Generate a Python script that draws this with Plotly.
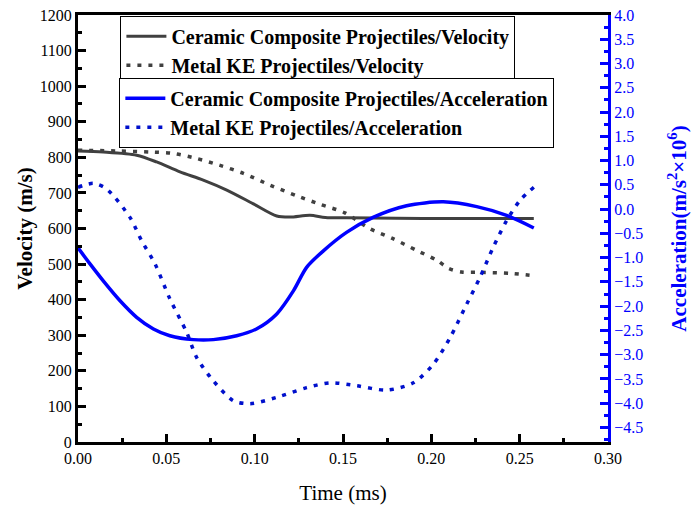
import plotly.graph_objects as go

# ---- data ----
t_cer_vel = [0.0, 0.0143, 0.0332, 0.0445, 0.0577, 0.0709, 0.0842, 0.099, 0.1125, 0.120, 0.1313, 0.140, 0.152, 0.180, 0.210, 0.240, 0.258]
v_cer = [818, 815, 806, 787, 759, 736, 708, 670, 635, 632, 637, 631, 630, 629, 628, 628, 628]

t_met_vel = [0.0, 0.0217, 0.041, 0.054, 0.067, 0.080, 0.0936, 0.1087, 0.1238, 0.137, 0.151, 0.165, 0.178, 0.1915, 0.203, 0.2097, 0.217, 0.2266, 0.2445, 0.257]
v_met = [820, 818, 815, 811, 797, 778, 755, 722, 692, 668, 644, 600, 572, 539, 511, 488, 478, 477, 474, 468]

t_cer_acc = [0.0, 0.0068, 0.0143, 0.0238, 0.0332, 0.0427, 0.052, 0.0653, 0.0766, 0.0898, 0.101, 0.1125, 0.122, 0.1294, 0.1389, 0.152, 0.167, 0.186, 0.2068, 0.2257, 0.2426, 0.258]
a_cer = [-0.80, -1.13, -1.48, -1.89, -2.23, -2.47, -2.61, -2.69, -2.69, -2.61, -2.47, -2.16, -1.68, -1.20, -0.86, -0.48, -0.17, 0.07, 0.15, 0.05, -0.13, -0.39]

t_met_acc = [0.0, 0.0087, 0.016, 0.0294, 0.036, 0.0436, 0.052, 0.0615, 0.0672, 0.0766, 0.088, 0.0974, 0.1125, 0.1294, 0.1426, 0.1577, 0.1747, 0.1898, 0.2011, 0.2106, 0.220, 0.2275, 0.235, 0.2426, 0.2502, 0.258]
a_met = [0.45, 0.53, 0.42, -0.17, -0.65, -1.13, -1.85, -2.54, -3.06, -3.54, -3.95, -4.01, -3.88, -3.68, -3.58, -3.64, -3.73, -3.58, -3.20, -2.65, -1.96, -1.41, -0.79, -0.24, 0.18, 0.45]

names = ["Ceramic Composite Projectiles/Velocity",
         "Metal KE Projectiles/Velocity",
         "Ceramic Composite Projectiles/Acceleration",
         "Metal KE Projectiles/Acceleration"]

GRAY = "#404040"
BLUE = "#0000FF"
DBLUE = "#0010CC"
FONT = "Liberation Serif, Times New Roman, serif"

fig = go.Figure()
fig.add_trace(go.Scatter(x=t_cer_vel, y=v_cer, mode="lines", name="<b>" + names[0] + "</b>",
                         line=dict(color=GRAY, width=3, shape="spline", smoothing=0.8), legend="legend"))
fig.add_trace(go.Scatter(x=t_met_vel, y=v_met, mode="lines", name="<b>" + names[1] + "</b>",
                         line=dict(color=GRAY, width=3.5, dash="4px,7px", shape="spline", smoothing=0.8), legend="legend"))
fig.add_trace(go.Scatter(x=t_cer_acc, y=a_cer, mode="lines", name="<b>" + names[2] + "</b>", yaxis="y2",
                         line=dict(color=BLUE, width=3.5, shape="spline", smoothing=0.8), legend="legend2"))
fig.add_trace(go.Scatter(x=t_met_acc, y=a_met, mode="lines", name="<b>" + names[3] + "</b>", yaxis="y2",
                         line=dict(color=DBLUE, width=3.5, dash="4px,7px", shape="spline", smoothing=0.8), legend="legend2"))

legend_common = dict(bgcolor="white", bordercolor="black", borderwidth=1,
                     font=dict(family=FONT, size=20, color="black"),
                     xanchor="left", yanchor="top", tracegroupgap=0, itemwidth=40)

fig.update_layout(
    width=691, height=508,
    margin=dict(l=78, r=83, t=15, b=66),
    paper_bgcolor="white", plot_bgcolor="white",
    font=dict(family=FONT, size=16, color="black"),
    showlegend=True,
    legend=dict(x=0.08, y=0.998, **legend_common),
    legend2=dict(x=0.078, y=0.853, **legend_common),
    xaxis=dict(range=[0, 0.30], dtick=0.05, tickformat=".2f", showgrid=False, zeroline=False,
               showline=True, linecolor="black", linewidth=3, mirror=True, automargin=False,
               ticks="inside", ticklen=8, tickwidth=3, tickcolor="black",
               minor=dict(ticks="inside", ticklen=4, tickwidth=3, dtick=0.025, tickcolor="black"),
               tickfont=dict(family=FONT, size=16, color="black"),
               title=dict(text="Time (ms)", font=dict(family=FONT, size=21, color="black"), standoff=20)),
    yaxis=dict(range=[0, 1200], dtick=100, showgrid=False, zeroline=False,
               showline=True, linecolor="black", linewidth=3, automargin=False,
               ticks="inside", ticklen=8, tickwidth=3, tickcolor="black",
               minor=dict(ticks="inside", ticklen=4, tickwidth=3, dtick=50, tickcolor="black"),
               tickfont=dict(family=FONT, size=16, color="black"),
               title=dict(text="<b>Velocity (m/s)</b>", font=dict(family=FONT, size=21, color="black"), standoff=2)),
    yaxis2=dict(range=[-4.8, 4.0], overlaying="y", side="right", dtick=0.5, tickformat=".1f",
                showgrid=False, zeroline=False, automargin=False,
                showline=True, linecolor=BLUE, linewidth=3,
                ticks="inside", ticklen=8, tickwidth=3, tickcolor=BLUE,
                minor=dict(ticks="inside", ticklen=4, tickwidth=3, dtick=0.25, tickcolor=BLUE),
                tickfont=dict(family=FONT, size=16, color=BLUE),
                title=dict(text="<b>Acceleration(m/s<sup>2</sup>×10<sup>6</sup>)</b>",
                           font=dict(family=FONT, size=21, color=BLUE), standoff=30)),
)

fig.write_html("out.html")
